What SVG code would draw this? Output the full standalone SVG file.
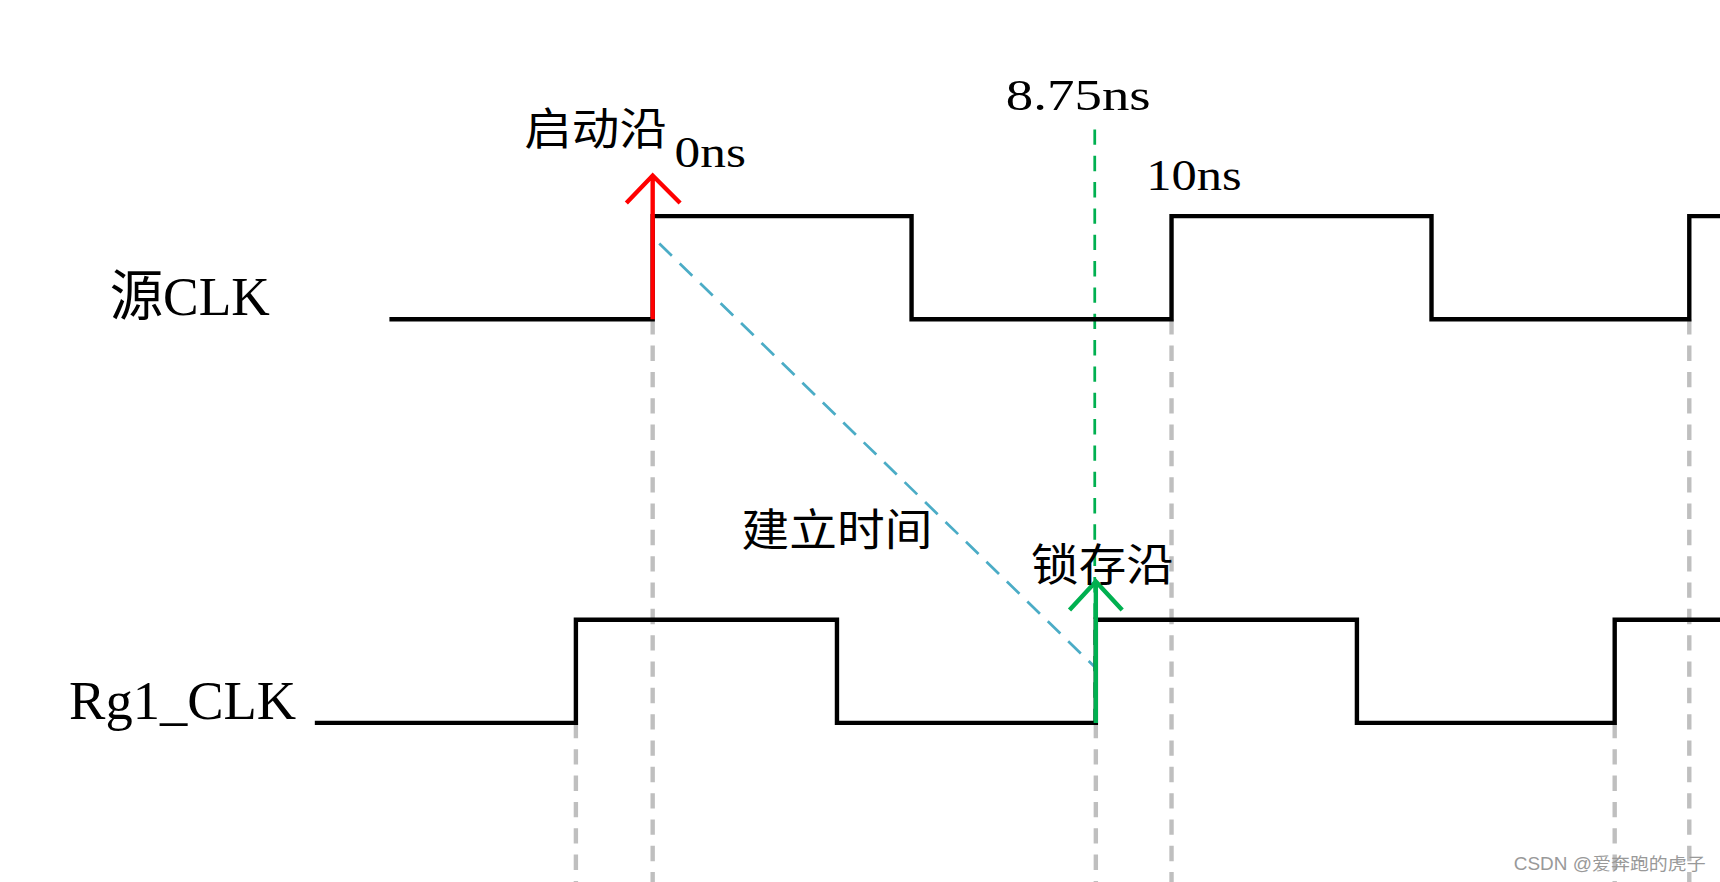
<svg xmlns="http://www.w3.org/2000/svg" width="1720" height="882" viewBox="0 0 1720 882">
<style>
.w{fill:none;stroke:#000;stroke-width:4}
.g{stroke:#bfbfbf;stroke-width:4;stroke-dasharray:14,10}
.t{font-family:"Liberation Serif","Noto Sans CJK SC",serif;fill:#000}
</style>
<rect width="1720" height="882" fill="#fff"/>
<g transform="scale(1.09694,1.097)">
<g id="connectors">
<line class="g" x1="595" y1="291" x2="595" y2="804"/>
<line class="g" x1="1068" y1="291" x2="1068" y2="804"/>
<line class="g" x1="1540" y1="291" x2="1540" y2="804"/>
<line class="g" x1="525" y1="659" x2="525" y2="804"/>
<line class="g" x1="999" y1="659" x2="999" y2="804"/>
<line class="g" x1="1472" y1="659" x2="1472" y2="804"/>
<line x1="998" y1="118" x2="998" y2="659" stroke="#00b050" stroke-width="2.5" stroke-dasharray="14,10"/>
<line x1="601" y1="222" x2="999" y2="609" stroke="#4bacc6" stroke-width="2.5" stroke-dasharray="16,10"/>
</g>
<g id="src-clk">
<polyline class="w" points="355,291 595,291 595,197 831,197 831,291 1068,291 1068,197 1305,197 1305,291 1540,291 1540,197 1568,197"/>
<text class="t" x="100" y="287" font-size="50" textLength="146" lengthAdjust="spacingAndGlyphs">源CLK</text>
</g>
<g id="rg1-clk">
<polyline class="w" points="287,659 525,659 525,565 763,565 763,659 999,659 999,565 1237,565 1237,659 1472,659 1472,565 1568,565"/>
<text class="t" x="63" y="655" font-size="50" textLength="207" lengthAdjust="spacingAndGlyphs">Rg1_CLK</text>
</g>
<g id="launch">
<path d="M595 291V160M571 185L595 160L620 185" fill="none" stroke="#ff0000" stroke-width="4"/>
<text class="t" x="478" y="132" font-size="40" textLength="130" lengthAdjust="spacingAndGlyphs">启动沿</text>
<text class="t" x="615" y="152" font-size="40" textLength="65" lengthAdjust="spacingAndGlyphs">0ns</text>
</g>
<g id="latch">
<path d="M999 659V530M975 556L999 530L1023 556" fill="none" stroke="#00b050" stroke-width="4"/>
<text class="t" x="940" y="530" font-size="40" textLength="130" lengthAdjust="spacingAndGlyphs">锁存沿</text>
</g>
<g id="labels">
<text class="t" x="917" y="100" font-size="40" textLength="132" lengthAdjust="spacingAndGlyphs">8.75ns</text>
<text class="t" x="1045" y="173" font-size="40" textLength="87" lengthAdjust="spacingAndGlyphs">10ns</text>
<text class="t" x="676" y="498" font-size="40" textLength="174" lengthAdjust="spacingAndGlyphs">建立时间</text>
<text x="1380" y="793" font-size="16" fill="#999" font-family="'Liberation Sans','Noto Sans CJK SC',sans-serif" textLength="175" lengthAdjust="spacingAndGlyphs">CSDN @爱奔跑的虎子</text>
</g>
</g>
</svg>
